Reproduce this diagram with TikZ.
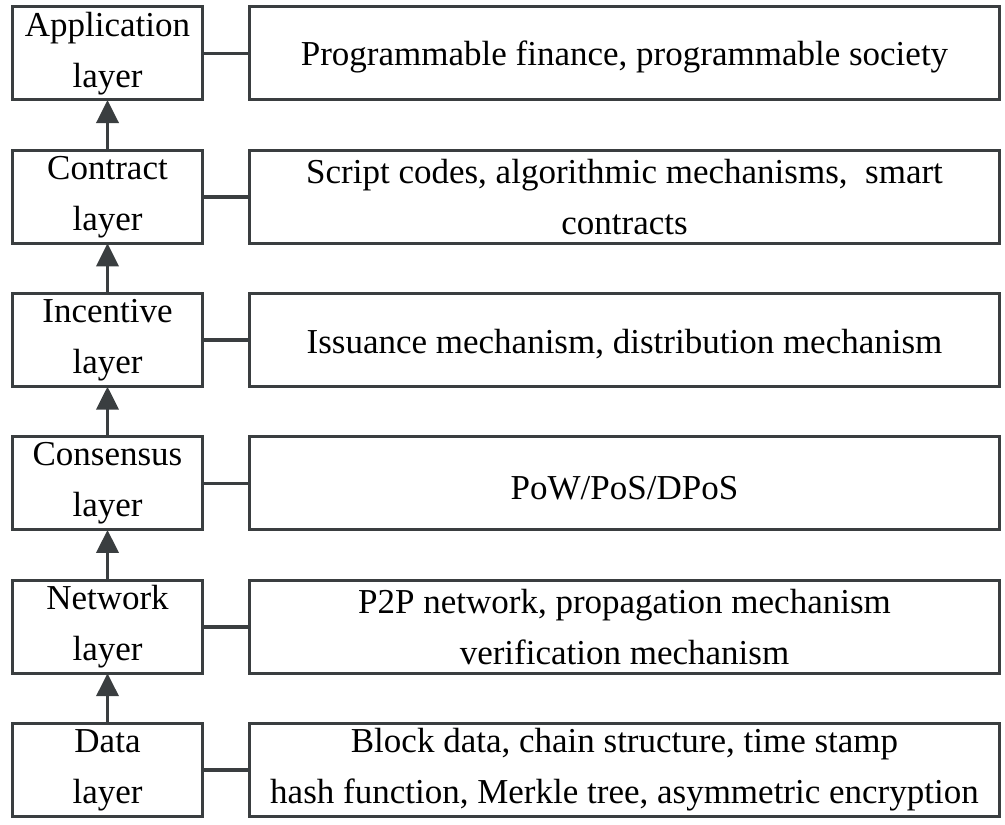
\documentclass[tikz,border=0pt]{standalone}
\usepackage{fontspec}
\setmainfont{Liberation Serif}
\usepackage{xcolor}
\usepackage{tikz}
\usetikzlibrary{arrows.meta, positioning}
\definecolor{darkgrey}{RGB}{58, 62, 64}
\tikzset{
    layerbox/.style = {rectangle, draw=darkgrey, line width=1.5pt, minimum width=95pt, minimum height=46.5pt, inner sep=0pt, outer sep=0pt, align=center, font=\fontsize{17.5}{25.5}\selectfont, execute at begin node={\rule{0pt}{16pt}}},
    descbox/.style = {rectangle, draw=darkgrey, line width=1.5pt, minimum width=375pt, minimum height=46.5pt, inner sep=0pt, outer sep=0pt, align=center, font=\fontsize{17.5}{25.5}\selectfont, execute at begin node={\rule{0pt}{16pt}}},
    arrow/.style = {draw=darkgrey, line width=1.8pt, -{Triangle[width=11pt, length=11.5pt]}},
    line/.style = {draw=darkgrey, line width=1.8pt, -}
}

\begin{document}
\begin{tikzpicture}[x=0.5pt, y=0.5pt, node distance=25.15pt and 23.5pt]
\useasboundingbox (0,0) rectangle (1005,-824);
\node (app) [layerbox] at (107.5,-53.5) {Application\\layer};
\node (appR) [descbox, right=of app] {Programmable finance, programmable society};
\node (con) [layerbox, below=of app] {Contract\\layer};
\node (conR) [descbox, right=of con] {Script codes, algorithmic mechanisms, \ smart\\contracts};
\node (inc) [layerbox, below=of con] {Incentive\\layer};
\node (incR) [descbox, right=of inc] {Issuance mechanism, distribution mechanism};
\node (cns) [layerbox, below=of inc] {Consensus\\layer};
\node (cnsR) [descbox, right=of cns] {PoW/PoS/DPoS};
\node (net) [layerbox, below=of cns] {Network\\layer};
\node (netR) [descbox, right=of net] {P2P network, propagation mechanism\\verification mechanism};
\node (dat) [layerbox, below=of net] {Data\\layer};
\node (datR) [descbox, right=of dat] {Block data, chain structure, time stamp\\hash function, Merkle tree, asymmetric encryption};

\draw [line] (app) -- (appR);
\draw [line] (con) -- (conR);
\draw [line] (inc) -- (incR);
\draw [line] (cns) -- (cnsR);
\draw [line] (net) -- (netR);
\draw [line] (dat) -- (datR);
\draw [arrow] (con) -- (app);
\draw [arrow] (inc) -- (con);
\draw [arrow] (cns) -- (inc);
\draw [arrow] (net) -- (cns);
\draw [arrow] (dat) -- (net);
\end{tikzpicture}
\end{document}
